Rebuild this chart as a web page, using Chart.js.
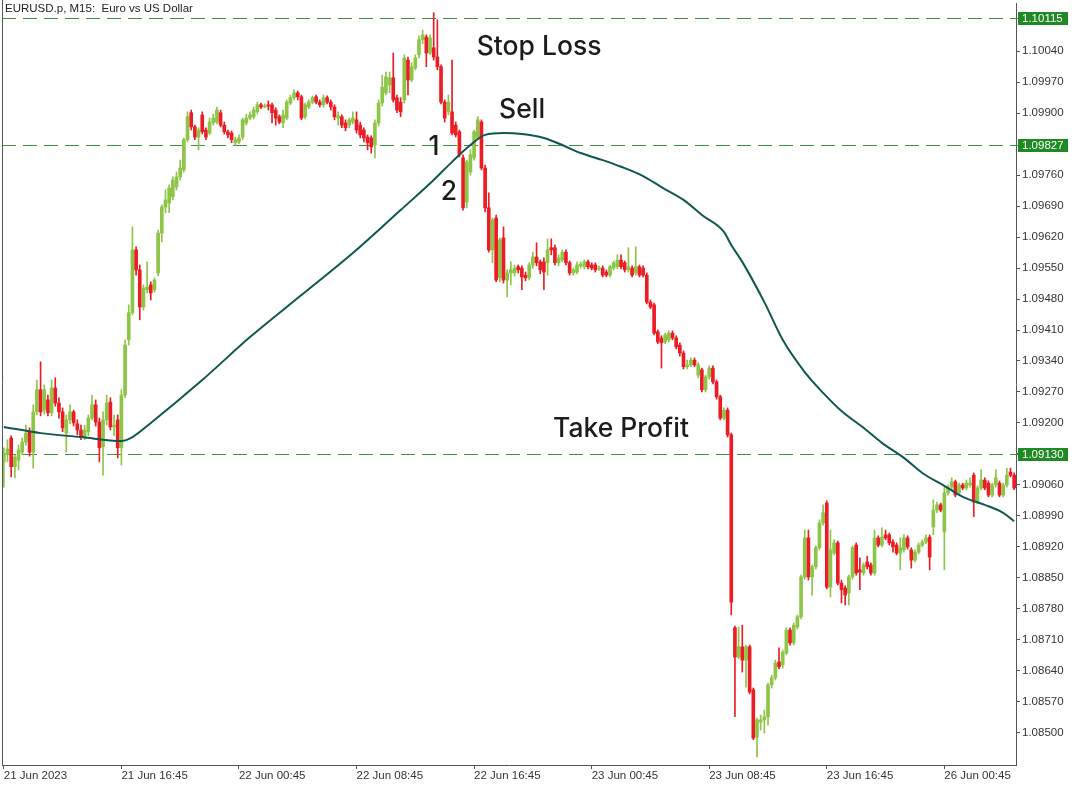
<!DOCTYPE html>
<html>
<head>
<meta charset="utf-8">
<title>EURUSD.p M15</title>
<script src="https://cdn.jsdelivr.net/npm/chart.js@4.4.0/dist/chart.umd.min.js"></script>
<style>
  html, body { margin: 0; padding: 0; background: #fff; }
  canvas { display: block; }
</style>
</head>
<body>
<canvas id="chart" width="1080" height="785"></canvas>
<script>
// EURUSD.p M15 candles, 21 Jun 2023 08:45 -> 26 Jun 2023 05:45
const opens = [
  1.09112,1.09128,1.09166,1.09101,1.09116,1.09134,1.09157,1.09180,1.09134,1.09225,
  1.09275,1.09229,1.09252,1.09223,1.09279,1.09245,1.09225,1.09177,1.09207,1.09225,
  1.09198,1.09184,1.09168,1.09180,1.09211,1.09241,1.09202,1.09146,1.09207,1.09247,
  1.09191,1.09207,1.09144,1.09263,1.09388,1.09449,1.09591,1.09546,1.09462,1.09501,
  1.09512,1.09501,1.09539,1.09629,1.09688,1.09697,1.09711,1.09733,1.09756,1.09772,
  1.09840,1.09901,1.09869,1.09846,1.09896,1.09862,1.09855,1.09878,1.09880,1.09901,
  1.09873,1.09858,1.09855,1.09833,1.09835,1.09846,1.09878,1.09889,1.09892,1.09903,
  1.09919,1.09914,1.09919,1.09919,1.09907,1.09892,1.09878,1.09889,1.09923,1.09935,
  1.09946,1.09937,1.09892,1.09914,1.09925,1.09937,1.09925,1.09919,1.09935,1.09925,
  1.09914,1.09889,1.09892,1.09878,1.09873,1.09880,1.09885,1.09873,1.09862,1.09846,
  1.09844,1.09828,1.09878,1.09923,1.09946,1.09964,1.09980,1.09935,1.09925,1.09930,
  1.10020,1.09975,1.10002,1.10032,1.10066,1.10072,1.10036,1.10048,1.10027,1.10005,
  1.09925,1.09903,1.09903,1.09873,1.09858,1.09799,1.09699,1.09767,1.09799,1.09844,
  1.09880,1.09776,1.09686,1.09591,1.09663,1.09528,1.09618,1.09523,1.09539,1.09539,
  1.09553,1.09550,1.09534,1.09528,1.09557,1.09575,1.09564,1.09564,1.09562,1.09596,
  1.09596,1.09562,1.09568,1.09586,1.09562,1.09539,1.09541,1.09555,1.09553,1.09564,
  1.09557,1.09557,1.09548,1.09550,1.09541,1.09534,1.09550,1.09553,1.09568,1.09562,
  1.09546,1.09550,1.09539,1.09553,1.09550,1.09534,1.09473,1.09467,1.09406,1.09392,
  1.09383,1.09388,1.09403,1.09392,1.09376,1.09358,1.09327,1.09331,1.09342,1.09308,
  1.09320,1.09275,1.09304,1.09324,1.09293,1.09259,1.09211,1.09229,1.09173,1.08737,
  1.08671,1.08694,1.08664,1.08694,1.08597,1.08490,1.08524,1.08529,1.08536,1.08608,
  1.08624,1.08660,1.08653,1.08680,1.08732,1.08703,1.08739,1.08762,1.08852,1.08940,
  1.08852,1.08875,1.08918,1.08974,1.09019,1.08829,1.08906,1.08929,1.08838,1.08827,
  1.08816,1.08852,1.08924,1.08868,1.08861,1.08886,1.08879,1.08861,1.08940,1.08924,
  1.08947,1.08947,1.08931,1.08924,1.08906,1.08913,1.08940,1.08913,1.08890,1.08908,
  1.08924,1.08931,1.08942,1.08965,1.09003,1.09015,1.08954,1.09042,1.09055,1.09067,
  1.09042,1.09060,1.09053,1.09060,1.09082,1.09021,1.09053,1.09071,1.09064,1.09037,
  1.09060,1.09064,1.09037,1.09060,1.09089,1.09082
];
const highs = [
  1.09144,1.09162,1.09171,1.09128,1.09150,1.09166,1.09195,1.09189,1.09241,1.09297,
  1.09338,1.09286,1.09263,1.09297,1.09302,1.09257,1.09234,1.09218,1.09241,1.09229,
  1.09207,1.09195,1.09195,1.09218,1.09263,1.09252,1.09211,1.09225,1.09263,1.09257,
  1.09218,1.09218,1.09275,1.09388,1.09467,1.09643,1.09598,1.09557,1.09512,1.09564,
  1.09519,1.09528,1.09636,1.09693,1.09727,1.09738,1.09756,1.09767,1.09794,1.09844,
  1.09903,1.09907,1.09873,1.09867,1.09903,1.09867,1.09889,1.09898,1.09914,1.09907,
  1.09880,1.09862,1.09860,1.09846,1.09851,1.09889,1.09898,1.09903,1.09914,1.09925,
  1.09923,1.09921,1.09928,1.09923,1.09912,1.09896,1.09907,1.09930,1.09941,1.09953,
  1.09950,1.09941,1.09923,1.09930,1.09939,1.09941,1.09930,1.09941,1.09939,1.09930,
  1.09919,1.09903,1.09896,1.09885,1.09889,1.09903,1.09903,1.09880,1.09867,1.09851,
  1.09849,1.09885,1.09930,1.09986,1.09993,1.09993,1.10036,1.09941,1.09935,1.10032,
  1.10027,1.10014,1.10032,1.10075,1.10088,1.10077,1.10077,1.10127,1.10111,1.10009,
  1.09930,1.09941,1.10020,1.09880,1.09862,1.09806,1.09794,1.09817,1.09862,1.09892,
  1.09885,1.09783,1.09720,1.09663,1.09670,1.09618,1.09643,1.09546,1.09564,1.09557,
  1.09557,1.09555,1.09541,1.09562,1.09586,1.09607,1.09568,1.09573,1.09616,1.09616,
  1.09602,1.09580,1.09591,1.09591,1.09566,1.09550,1.09564,1.09564,1.09568,1.09568,
  1.09562,1.09562,1.09555,1.09555,1.09546,1.09557,1.09566,1.09580,1.09580,1.09566,
  1.09596,1.09555,1.09598,1.09557,1.09555,1.09539,1.09478,1.09471,1.09410,1.09397,
  1.09403,1.09408,1.09408,1.09397,1.09381,1.09363,1.09342,1.09347,1.09347,1.09336,
  1.09324,1.09308,1.09329,1.09329,1.09297,1.09263,1.09234,1.09234,1.09177,1.08741,
  1.08739,1.08743,1.08698,1.08698,1.08601,1.08533,1.08540,1.08551,1.08612,1.08630,
  1.08664,1.08692,1.08687,1.08737,1.08737,1.08748,1.08766,1.08856,1.08958,1.08958,
  1.08879,1.08922,1.08981,1.09015,1.09024,1.08958,1.08936,1.08933,1.08845,1.08832,
  1.08856,1.08922,1.08929,1.08895,1.08884,1.08899,1.08884,1.08958,1.08945,1.08963,
  1.08958,1.08951,1.08936,1.08929,1.08940,1.08947,1.08945,1.08918,1.08913,1.08929,
  1.08936,1.08947,1.08947,1.09026,1.09021,1.09019,1.09055,1.09060,1.09076,1.09071,
  1.09064,1.09064,1.09071,1.09076,1.09087,1.09058,1.09094,1.09076,1.09069,1.09064,
  1.09094,1.09069,1.09064,1.09098,1.09098,1.09087
];
const lows = [
  1.09055,1.09112,1.09078,1.09076,1.09094,1.09128,1.09150,1.09125,1.09098,1.09218,
  1.09216,1.09220,1.09216,1.09216,1.09238,1.09211,1.09180,1.09134,1.09198,1.09193,
  1.09173,1.09162,1.09162,1.09171,1.09207,1.09193,1.09112,1.09082,1.09195,1.09184,
  1.09171,1.09121,1.09105,1.09257,1.09376,1.09444,1.09534,1.09433,1.09455,1.09494,
  1.09478,1.09496,1.09532,1.09609,1.09675,1.09675,1.09704,1.09727,1.09749,1.09767,
  1.09835,1.09862,1.09840,1.09817,1.09853,1.09840,1.09851,1.09873,1.09876,1.09869,
  1.09853,1.09844,1.09833,1.09828,1.09831,1.09840,1.09873,1.09885,1.09887,1.09898,
  1.09910,1.09912,1.09907,1.09878,1.09873,1.09876,1.09867,1.09885,1.09919,1.09930,
  1.09930,1.09885,1.09887,1.09910,1.09921,1.09921,1.09914,1.09914,1.09921,1.09907,
  1.09885,1.09873,1.09867,1.09860,1.09867,1.09876,1.09855,1.09844,1.09835,1.09817,
  1.09810,1.09799,1.09871,1.09916,1.09941,1.09946,1.09925,1.09901,1.09892,1.09923,
  1.09941,1.09971,1.09998,1.10025,1.10057,1.10005,1.10032,1.10020,1.09998,1.09921,
  1.09880,1.09896,1.09851,1.09846,1.09801,1.09681,1.09686,1.09760,1.09794,1.09840,
  1.09772,1.09677,1.09586,1.09562,1.09519,1.09519,1.09516,1.09485,1.09512,1.09532,
  1.09539,1.09501,1.09521,1.09523,1.09550,1.09555,1.09537,1.09501,1.09534,1.09580,
  1.09557,1.09555,1.09564,1.09557,1.09534,1.09534,1.09537,1.09550,1.09548,1.09548,
  1.09546,1.09541,1.09544,1.09530,1.09530,1.09530,1.09546,1.09548,1.09548,1.09541,
  1.09541,1.09530,1.09534,1.09530,1.09530,1.09469,1.09458,1.09399,1.09379,1.09324,
  1.09379,1.09383,1.09388,1.09367,1.09351,1.09322,1.09322,1.09327,1.09327,1.09302,
  1.09270,1.09270,1.09299,1.09288,1.09254,1.09207,1.09207,1.09168,1.08766,1.08536,
  1.08667,1.08637,1.08603,1.08588,1.08484,1.08445,1.08506,1.08499,1.08517,1.08601,
  1.08619,1.08644,1.08646,1.08676,1.08698,1.08698,1.08734,1.08757,1.08847,1.08845,
  1.08811,1.08870,1.08913,1.08969,1.08825,1.08807,1.08902,1.08834,1.08793,1.08789,
  1.08789,1.08847,1.08856,1.08823,1.08856,1.08870,1.08856,1.08856,1.08920,1.08920,
  1.08936,1.08924,1.08908,1.08902,1.08868,1.08908,1.08915,1.08872,1.08886,1.08904,
  1.08920,1.08927,1.08868,1.08947,1.08997,1.08999,1.08868,1.09037,1.09049,1.09033,
  1.09037,1.09049,1.09049,1.09055,1.08988,1.09017,1.09049,1.09049,1.09033,1.09033,
  1.09055,1.09033,1.09033,1.09055,1.09078,1.09049
];
const closes = [
  1.09132,1.09141,1.09101,1.09123,1.09139,1.09157,1.09177,1.09134,1.09225,1.09275,
  1.09225,1.09275,1.09223,1.09279,1.09245,1.09225,1.09189,1.09207,1.09225,1.09200,
  1.09184,1.09168,1.09184,1.09211,1.09241,1.09202,1.09144,1.09207,1.09245,1.09191,
  1.09195,1.09144,1.09263,1.09376,1.09449,1.09591,1.09546,1.09462,1.09505,1.09507,
  1.09494,1.09523,1.09629,1.09688,1.09704,1.09731,1.09749,1.09756,1.09776,1.09840,
  1.09892,1.09869,1.09846,1.09862,1.09858,1.09846,1.09880,1.09889,1.09907,1.09873,
  1.09858,1.09851,1.09840,1.09840,1.09844,1.09885,1.09889,1.09896,1.09907,1.09919,
  1.09914,1.09916,1.09916,1.09901,1.09889,1.09880,1.09896,1.09925,1.09935,1.09946,
  1.09937,1.09889,1.09919,1.09925,1.09935,1.09925,1.09919,1.09935,1.09925,1.09914,
  1.09892,1.09894,1.09873,1.09867,1.09885,1.09889,1.09862,1.09851,1.09844,1.09833,
  1.09824,1.09878,1.09923,1.09959,1.09982,1.09980,1.09930,1.09907,1.09903,1.10025,
  1.09975,1.10005,1.10025,1.10066,1.10077,1.10036,1.10070,1.10027,1.10005,1.09925,
  1.09889,1.09925,1.09855,1.09851,1.09806,1.09686,1.09790,1.09806,1.09858,1.09885,
  1.09776,1.09686,1.09591,1.09659,1.09523,1.09614,1.09523,1.09539,1.09546,1.09550,
  1.09546,1.09530,1.09528,1.09557,1.09575,1.09562,1.09546,1.09541,1.09591,1.09591,
  1.09562,1.09573,1.09586,1.09562,1.09539,1.09546,1.09557,1.09559,1.09564,1.09553,
  1.09550,1.09546,1.09550,1.09534,1.09534,1.09553,1.09562,1.09568,1.09553,1.09546,
  1.09553,1.09534,1.09553,1.09534,1.09534,1.09473,1.09462,1.09403,1.09383,1.09381,
  1.09399,1.09403,1.09392,1.09372,1.09358,1.09327,1.09331,1.09342,1.09331,1.09331,
  1.09275,1.09304,1.09324,1.09293,1.09259,1.09211,1.09229,1.09173,1.08795,1.08671,
  1.08694,1.08664,1.08694,1.08592,1.08488,1.08529,1.08529,1.08536,1.08608,1.08624,
  1.08658,1.08649,1.08682,1.08732,1.08703,1.08743,1.08762,1.08852,1.08940,1.08852,
  1.08875,1.08918,1.08974,1.08997,1.08829,1.08913,1.08929,1.08838,1.08823,1.08811,
  1.08852,1.08918,1.08861,1.08863,1.08879,1.08875,1.08861,1.08940,1.08924,1.08942,
  1.08940,1.08929,1.08920,1.08906,1.08918,1.08940,1.08920,1.08890,1.08908,1.08924,
  1.08931,1.08940,1.08897,1.09003,1.09015,1.09003,1.09042,1.09055,1.09067,1.09037,
  1.09060,1.09053,1.09064,1.09064,1.09021,1.09053,1.09071,1.09053,1.09037,1.09060,
  1.09076,1.09037,1.09060,1.09082,1.09082,1.09053
];

const maIdx = [0, 10, 21, 32, 35, 40, 54, 67, 81, 95, 108, 117, 122, 127, 131, 136, 141, 147,
  152, 157, 163, 168, 174, 179, 185, 190, 196, 198, 201, 207, 212, 218, 223, 228, 234, 239,
  245, 250, 256, 261, 267, 272, 275];
const maVal = [1.09191, 1.09177, 1.09168, 1.09159, 1.09168, 1.09200, 1.09297, 1.09394, 1.09489,
  1.09584, 1.09681, 1.09749, 1.09790, 1.09828, 1.09851, 1.09855, 1.09853, 1.09844, 1.09828,
  1.09810, 1.09794, 1.09779, 1.09758, 1.09733, 1.09704, 1.09670, 1.09632, 1.09602, 1.09564,
  1.09473, 1.09388, 1.09315, 1.09268, 1.09227, 1.09189, 1.09155, 1.09121, 1.09087, 1.09058,
  1.09033, 1.09015, 1.08997, 1.08978];

const xTickIdx = [0, 32, 64, 96, 128, 160, 192, 224, 256];
const xTickLabels = ['21 Jun 2023', '21 Jun 16:45', '22 Jun 00:45', '22 Jun 08:45', '22 Jun 16:45',
  '23 Jun 00:45', '23 Jun 08:45', '23 Jun 16:45', '26 Jun 00:45'];

const yTicks = [1.10040, 1.09970, 1.09900, 1.09760, 1.09690, 1.09620, 1.09550, 1.09480, 1.09410,
  1.09340, 1.09270, 1.09200, 1.09130, 1.09060, 1.08990, 1.08920, 1.08850, 1.08780, 1.08710,
  1.08640, 1.08570, 1.08500];

// stop loss, entry, take profit
const levels = [1.10115, 1.09827, 1.09130];

const title = 'EURUSD.p, M15:  Euro vs US Dollar';
const notes = [
  { text: 'Stop Loss', idx: 128.7, price: 1.10050 },
  { text: 'Sell', idx: 134.8, price: 1.09907 },
  { text: '1', idx: 115.6, price: 1.09824 },
  { text: '2', idx: 118.9, price: 1.09722 },
  { text: 'Take Profit', idx: 149.5, price: 1.09186 }
];

const UP = '#8dc547';
const DOWN = '#eb1c24';
const AXIS = '#555555';
const LABEL_FONT = { family: '"Liberation Sans", Arial, sans-serif', size: 11.5 };

const bars = opens.map((_, i) => String(i));
const bodies = opens.map((o, i) => [o, closes[i]]);
const wicks = lows.map((l, i) => [l, highs[i]]);
const maData = opens.map(() => null);
maIdx.forEach((idx, k) => { maData[idx] = maVal[k]; });

function candleColor(ctx) {
    const i = ctx.dataIndex;
    return closes[i] >= opens[i] ? UP : DOWN;
}

// level lines, price boxes, title and the notes
const overlay = {
    id: 'overlay',
    beforeDatasetsDraw(chart) {
        const { ctx, chartArea: a, scales: { y } } = chart;
        ctx.save();
        ctx.strokeStyle = '#3d8f3d';
        ctx.lineWidth = 1;
        ctx.setLineDash([14, 7]);
        levels.forEach(v => {
            const py = Math.round(y.getPixelForValue(v)) + 0.5;
            ctx.beginPath();
            ctx.moveTo(a.left, py);
            ctx.lineTo(a.right + 3, py);
            ctx.stroke();
        });
        ctx.restore();
    },
    afterDraw(chart) {
        const { ctx, chartArea: a, scales: { x, y } } = chart;
        ctx.save();
        ctx.strokeStyle = AXIS;
        ctx.lineWidth = 1;
        ctx.beginPath();
        ctx.moveTo(a.left + 0.5, 0);
        ctx.lineTo(a.left + 0.5, a.bottom);
        ctx.stroke();

        ctx.font = '11.5px "Liberation Sans", Arial, sans-serif';
        ctx.textBaseline = 'middle';
        levels.forEach(v => {
            const py = Math.round(y.getPixelForValue(v));
            ctx.fillStyle = '#1f8a24';
            ctx.fillRect(a.right + 2, py - 6, 50, 13);
            ctx.fillStyle = '#ffffff';
            ctx.fillText(v.toFixed(5), a.right + 6, py + 1);
        });

        ctx.fillStyle = '#222222';
        ctx.textBaseline = 'top';
        ctx.fillText(title, 5, 3);

        ctx.font = '500 26.5px Inter, "Open Sans", sans-serif';
        ctx.fillStyle = '#1c1c1c';
        ctx.textBaseline = 'middle';
        notes.forEach(n => {
            ctx.fillText(n.text, x.getPixelForValue(n.idx), y.getPixelForValue(n.price));
        });
        ctx.restore();
    }
};

new Chart(document.getElementById('chart'), {
    type: 'bar',
    data: {
        labels: bars,
        datasets: [
            {
                type: 'line',
                data: maData,
                borderColor: '#115751',
                borderWidth: 2,
                pointRadius: 0,
                spanGaps: true,
                cubicInterpolationMode: 'monotone',
                fill: false,
                order: 0
            },
            {
                data: bodies,
                backgroundColor: candleColor,
                barThickness: 3,
                minBarLength: 1,
                grouped: false,
                order: 1
            },
            {
                data: wicks,
                backgroundColor: candleColor,
                barThickness: 1,
                grouped: false,
                order: 2
            }
        ]
    },
    options: {
        responsive: false,
        animation: false,
        events: [],
        layout: { padding: { left: 2, top: 3, right: 0, bottom: 0 } },
        plugins: {
            legend: { display: false },
            tooltip: { enabled: false }
        },
        scales: {
            x: {
                type: 'category',
                offset: true,
                grid: {
                    offset: false,
                    drawOnChartArea: false,
                    drawTicks: true,
                    tickLength: 4,
                    color: AXIS
                },
                border: { display: true, color: AXIS },
                ticks: {
                    align: 'start',
                    autoSkip: false,
                    maxRotation: 0,
                    padding: 0,
                    color: '#333333',
                    font: LABEL_FONT,
                    callback: v => xTickLabels[xTickIdx.indexOf(v)]
                },
                afterBuildTicks: axis => {
                    axis.ticks = xTickIdx.map(v => ({ value: v }));
                },
                afterFit: axis => {
                    axis.height = 20;
                    axis.paddingLeft = 0;
                    axis.paddingRight = 0;
                }
            },
            y: {
                type: 'linear',
                position: 'right',
                min: 1.08427,
                max: 1.10149,
                grid: {
                    drawOnChartArea: false,
                    drawTicks: true,
                    tickLength: 4,
                    color: AXIS
                },
                border: { display: true, color: AXIS },
                ticks: {
                    padding: 2,
                    color: '#333333',
                    font: LABEL_FONT,
                    callback: v => v.toFixed(5)
                },
                afterBuildTicks: axis => {
                    axis.ticks = yTicks.map(v => ({ value: v }));
                },
                afterFit: axis => {
                    axis.width = 64;
                    axis.paddingTop = 0;
                    axis.paddingBottom = 0;
                }
            }
        }
    },
    plugins: [overlay]
});
</script>
</body>
</html>
